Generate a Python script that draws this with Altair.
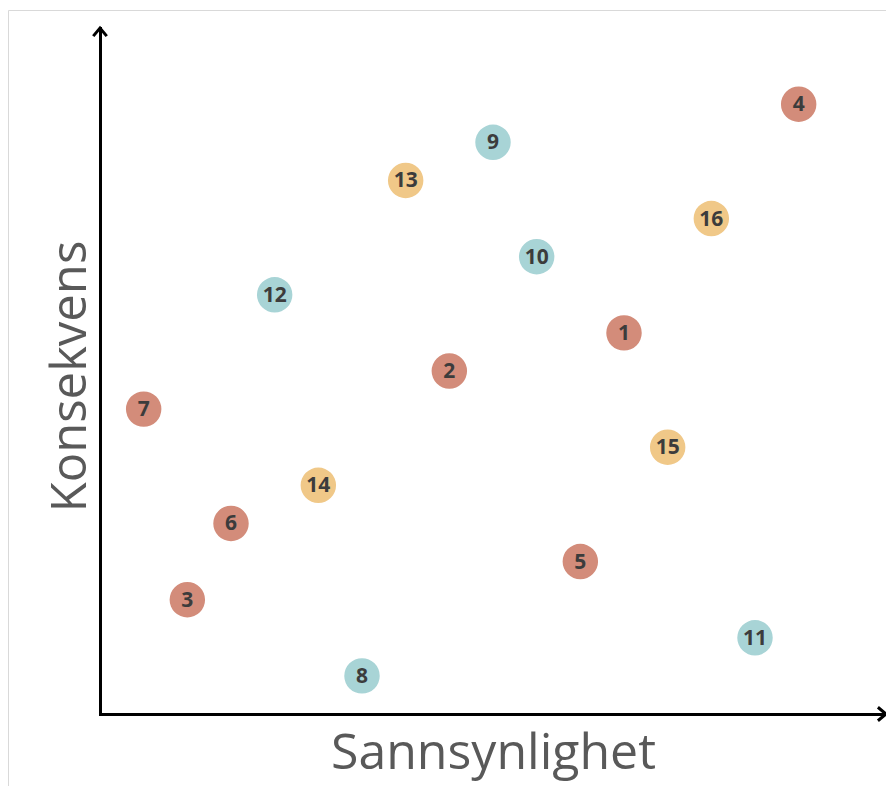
import altair as alt
import pandas as pd

# Risk items: id, likelihood rank (x), consequence rank (y), group
ids = [1, 2, 3, 4, 5, 6, 7, 8, 9, 10, 11, 12, 13, 14, 15, 16]
sannsynlighet = [12, 8, 2, 16, 11, 3, 1, 6, 9, 10, 15, 4, 7, 5, 13, 14]
konsekvens = [10, 9, 3, 16, 4, 5, 8, 1, 15, 12, 2, 11, 14, 6, 7, 13]
gruppe = ["rød", "rød", "rød", "rød", "rød", "rød", "rød",
          "blå", "blå", "blå", "blå", "blå",
          "gul", "gul", "gul", "gul"]
gruppe_navn = ["rød", "blå", "gul"]
gruppe_farge = ["#D38C7A", "#A8D4D6", "#F0C888"]

df = pd.DataFrame({
    "id": [str(i) for i in ids],
    "Sannsynlighet": sannsynlighet,
    "Konsekvens": konsekvens,
    "gruppe": gruppe,
})

x_scale = alt.Scale(domain=[0, 18], nice=False, zero=False)
y_scale = alt.Scale(domain=[0, 18], nice=False, zero=False)

base = alt.Chart(df)

circles = base.mark_circle(size=1257, opacity=1).encode(
    x=alt.X("Sannsynlighet:Q", scale=x_scale, title="Sannsynlighet"),
    y=alt.Y("Konsekvens:Q", scale=y_scale, title="Konsekvens"),
    color=alt.Color("gruppe:N", scale=alt.Scale(domain=gruppe_navn, range=gruppe_farge), legend=None),
)

labels = base.mark_text(
    font="Open Sans", fontSize=21, fontWeight="bold", color="#3C3C3C",
    baseline="middle", align="center", dy=1
).encode(
    x=alt.X("Sannsynlighet:Q", scale=x_scale),
    y=alt.Y("Konsekvens:Q", scale=y_scale),
    text="id:N",
)

# arrowheads at the ends of the axes
arrow_up = alt.Chart(alt.Data(values=[{"ax": 0, "ay": 18}])).mark_point(
    shape="M-0.75,0.9L0,0L0.75,0.9", size=324, filled=False,
    stroke="black", strokeWidth=3, opacity=1, clip=False
).encode(x=alt.X("ax:Q", scale=x_scale), y=alt.Y("ay:Q", scale=y_scale))

arrow_right = alt.Chart(alt.Data(values=[{"ax": 18, "ay": 0}])).mark_point(
    shape="M-0.9,-0.75L0,0L-0.9,0.75", size=324, filled=False,
    stroke="black", strokeWidth=3, opacity=1, clip=False
).encode(x=alt.X("ax:Q", scale=x_scale), y=alt.Y("ay:Q", scale=y_scale))

frame = alt.Chart(alt.Data(values=[{}])).mark_rect(
    fill="transparent", stroke="#D9D9D9", strokeWidth=1, clip=False
).encode(
    x=alt.value(-91.5), x2=alt.value(792),
    y=alt.value(-17.5), y2=alt.value(764),
)

chart = alt.layer(frame, circles, labels, arrow_up, arrow_right).properties(
    width=786,
    height=686,
    padding={"left": 92, "top": 20, "right": 0, "bottom": 72},
    autosize=alt.AutoSizeParams(type="none"),
    background="white",
).configure_view(
    stroke=None
).configure_axis(
    grid=False, ticks=False, labels=False,
    domainColor="black", domainWidth=3, domainCap="square",
    titleFont="Open Sans", titleFontSize=50, titleFontWeight="normal",
    titleColor="#595959",
).configure_axisX(
    titlePadding=14
).configure_axisY(
    titlePadding=5, titleFontSize=49, titleY=348
)

chart.save("out.html", embed_options={"renderer": "svg", "actions": False})
